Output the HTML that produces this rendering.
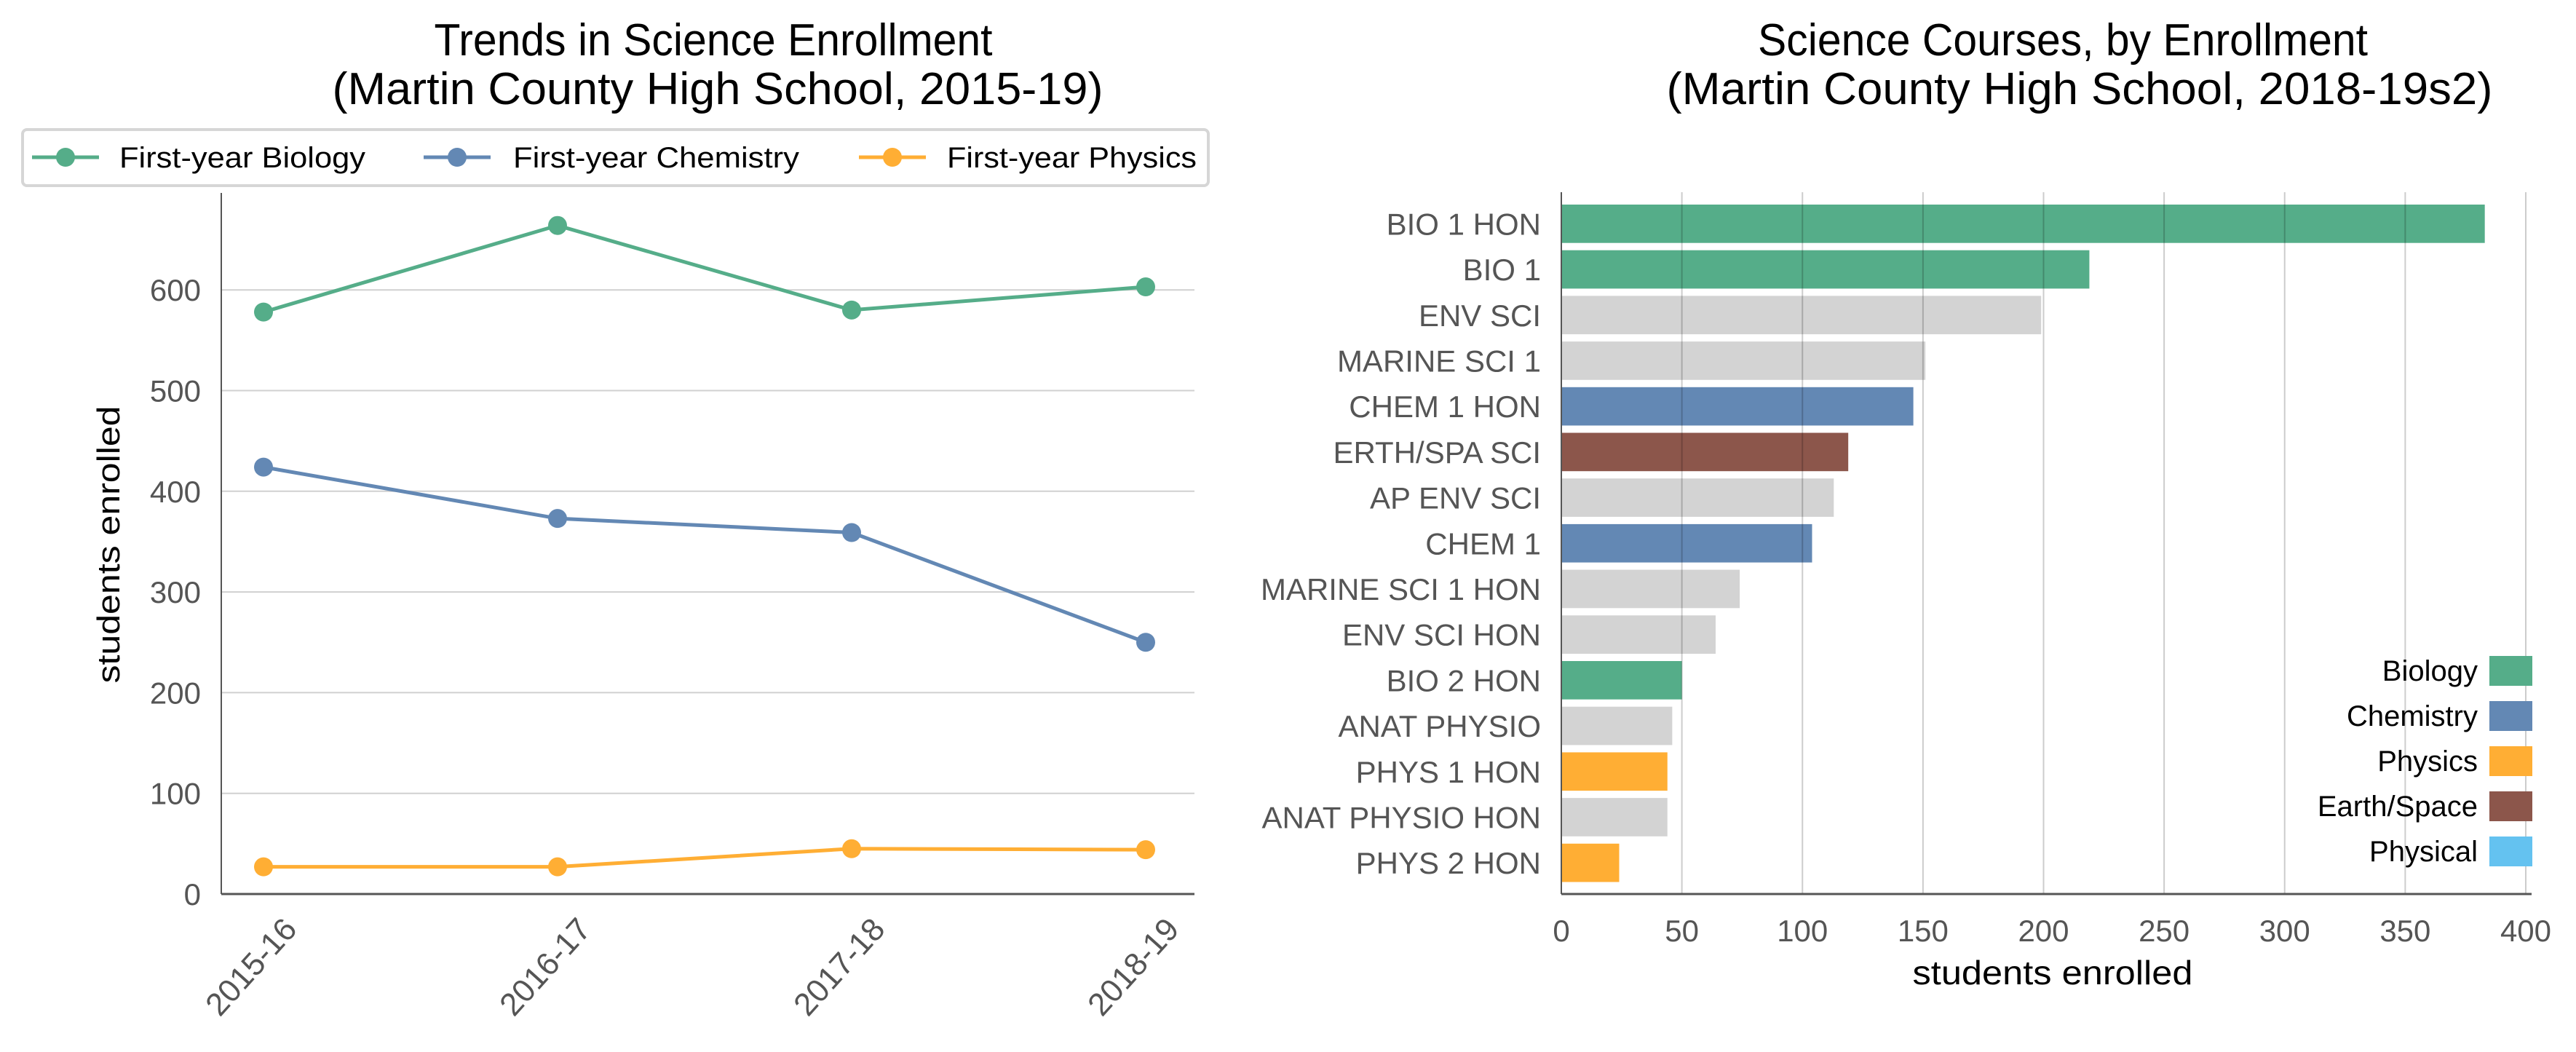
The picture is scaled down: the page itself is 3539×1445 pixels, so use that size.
<!DOCTYPE html>
<html><head><meta charset="utf-8">
<style>
html,body{margin:0;padding:0;background:#fff;}
svg{display:block;font-family:"Liberation Sans","NanumGothic",sans-serif;}
</style></head>
<body>
<svg id="fig" width="3539" height="1445" viewBox="0 0 3539 1445" xmlns="http://www.w3.org/2000/svg">
<g id="left"></g>
<g id="right"></g>
</svg>
<script>
const years = ["2015-16","2016-17","2017-18","2018-19"];
const bioVals = [578, 664, 580, 603];
const chemVals = [424, 373, 359, 250];
const physVals = [27, 27, 45, 44];
const yTicks = [0,100,200,300,400,500,600];

const courses = ["BIO 1 HON","BIO 1","ENV SCI","MARINE SCI 1","CHEM 1 HON","ERTH/SPA SCI","AP ENV SCI","CHEM 1","MARINE SCI 1 HON","ENV SCI HON","BIO 2 HON","ANAT PHYSIO","PHYS 1 HON","ANAT PHYSIO HON","PHYS 2 HON"];
const enrollVals = [383,219,199,151,146,119,113,104,74,64,50,46,44,44,24];
const courseCats = ["bio","bio","other","other","chem","earth","other","chem","other","other","bio","other","phys","other","phys"];
const xTicks = [0,50,100,150,200,250,300,350,400];
const legendCats = ["Biology","Chemistry","Physics","Earth/Space","Physical"];

const COL = {bio:"#55ad89", chem:"#6388b4", phys:"#ffae34", earth:"#8c564b", phys2:"#64c2f0", other:"#d3d3d3"};
const legendCols = [COL.bio, COL.chem, COL.phys, COL.earth, COL.phys2];
const NS = "http://www.w3.org/2000/svg";
function mk(parent, tag, attrs, text){
  const e = document.createElementNS(NS, tag);
  for (const k in attrs) e.setAttribute(k, attrs[k]);
  if (text !== undefined) e.textContent = text;
  parent.appendChild(e);
  return e;
}

/* ---------- LEFT CHART ---------- */
const L = document.getElementById('left');
const lx0 = 304, lx1 = 1641, ly0 = 1228, lyTop = 265;
const yScale = v => ly0 - v * 1.383;
const xPos = i => 362 + i * (1574 - 362) / (years.length - 1);

let t = mk(L,'text',{x:980,y:76,'text-anchor':'middle','font-size':62,fill:'#000',textLength:767,lengthAdjust:'spacingAndGlyphs'},'Trends in Science Enrollment');


t = mk(L,'text',{x:986,y:143,'text-anchor':'middle','font-size':62,fill:'#000',textLength:1059,lengthAdjust:'spacingAndGlyphs'},'(Martin County High School, 2015-19)');



yTicks.forEach(v=>{
  const y = yScale(v);
  if (v>0){
    const g = mk(L,'line',{x1:lx0,x2:lx1,y1:y,y2:y,stroke:'#d0d0d0','stroke-width':2});
    
    
  }
  const tl = mk(L,'text',{x:276,y:y+15,'text-anchor':'end','font-size':42,fill:'#555'},String(v));
  
  
});
years.forEach((yr,i)=>{
  const x = xPos(i);
  const tl = mk(L,'text',{transform:`translate(${x+48},${ly0+50}) rotate(-48)`,'text-anchor':'end','font-size':44,fill:'#555'},yr);
  
  
});
let sp = mk(L,'line',{x1:lx0,x2:lx0,y1:lyTop,y2:ly0,stroke:'#555','stroke-width':2});


sp = mk(L,'line',{x1:lx0,x2:lx1,y1:ly0,y2:ly0,stroke:'#555','stroke-width':3});



t = mk(L,'text',{transform:'translate(164,748) rotate(-90)','text-anchor':'middle','font-size':44,fill:'#000',textLength:381,lengthAdjust:'spacingAndGlyphs'},'students enrolled');



const seriesList = [[bioVals,COL.bio,'biology'],[chemVals,COL.chem,'chemistry'],[physVals,COL.phys,'physics']];
seriesList.forEach(([vals,c,nm])=>{
  const pts = vals.map((v,i)=>`${xPos(i)},${yScale(v)}`).join(' ');
  const pl = mk(L,'polyline',{points:pts,fill:'none',stroke:c,'stroke-width':5});
  
  
  vals.forEach((v,i)=>{
    const cc = mk(L,'circle',{cx:xPos(i),cy:yScale(v),r:13,fill:c});
    
    
  });
});

/* legend */
const lg = mk(L,'g',{});


mk(lg,'rect',{x:31,y:178,width:1629,height:77,rx:6,fill:'#fff',stroke:'#d6d6d6','stroke-width':4});
const legItems = [["First-year Biology",COL.bio,90,164,338],["First-year Chemistry",COL.chem,628,705,393],["First-year Physics",COL.phys,1226,1301,343]];
legItems.forEach(([lab,c,mx,tx,w])=>{
  const g = mk(lg,'g',{});
  
  
  mk(g,'line',{x1:mx-46,x2:mx+46,y1:216,y2:216,stroke:c,'stroke-width':5});
  mk(g,'circle',{cx:mx,cy:216,r:13,fill:c});
  mk(g,'text',{x:tx,y:230,'font-size':40,fill:'#000',textLength:w,lengthAdjust:'spacingAndGlyphs'},lab);
});

/* ---------- RIGHT CHART ---------- */
const R = document.getElementById('right');
const rx0 = 2145, rx1 = 3470, ry0 = 1228, ryTop = 264;
const xScale = v => rx0 + v * (rx1 - rx0) / 400;
const barY = i => 281 + i * 62.7;
const barH = 52.7;

t = mk(R,'text',{x:2834,y:76,'text-anchor':'middle','font-size':62,fill:'#000',textLength:838,lengthAdjust:'spacingAndGlyphs'},'Science Courses, by Enrollment');


t = mk(R,'text',{x:2857,y:143,'text-anchor':'middle','font-size':62,fill:'#000',textLength:1135,lengthAdjust:'spacingAndGlyphs'},'(Martin County High School, 2018-19s2)');



courses.forEach((c,i)=>{
  const b = mk(R,'rect',{x:rx0,y:barY(i),width:xScale(enrollVals[i])-rx0,height:barH,fill:COL[courseCats[i]]});
  
  
  const tl = mk(R,'text',{x:2117,y:barY(i)+barH/2+15,'text-anchor':'end','font-size':42,fill:'#555'},c);
  
  
});
xTicks.forEach(v=>{
  const x = xScale(v);
  if (v>0){
    const g = mk(R,'line',{x1:x,x2:x,y1:ryTop,y2:ry0,stroke:'rgba(0,0,0,0.2)','stroke-width':2});
    
    
  }
  const tl = mk(R,'text',{x:x,y:1293,'text-anchor':'middle','font-size':42,fill:'#555'},String(v));
  
  
});
sp = mk(R,'line',{x1:rx0,x2:rx0,y1:ryTop,y2:ry0,stroke:'#555','stroke-width':2});


sp = mk(R,'line',{x1:rx0,x2:3478,y1:ry0,y2:ry0,stroke:'#555','stroke-width':3});


t = mk(R,'text',{x:2820,y:1352,'text-anchor':'middle','font-size':46,fill:'#000',textLength:385,lengthAdjust:'spacingAndGlyphs'},'students enrolled');



const rl = mk(R,'g',{});


legendCats.forEach((lab,i)=>{
  const cy = 921 + i * 62;
  const g = mk(rl,'g',{});
  
  
  mk(g,'rect',{x:3420,y:cy-20,width:59,height:41,fill:legendCols[i]});
  mk(g,'text',{x:3404,y:cy+14,'text-anchor':'end','font-size':40,fill:'#000'},lab);
});
</script>
</body></html>
